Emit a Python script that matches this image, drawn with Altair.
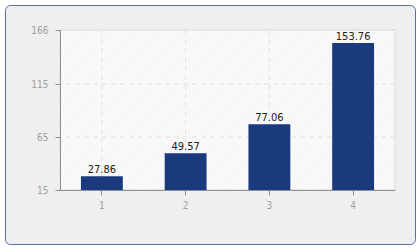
import altair as alt
import pandas as pd

categories = ["1", "2", "3", "4"]
values = [27.86, 49.57, 77.06, 153.76]
y_ticks = [15, 65, 115, 166]

W, H = 335, 160
FONT = "'DejaVu Sans Condensed', 'DejaVu Sans', sans-serif"

df = pd.DataFrame({"cat": categories, "val": values})
ticks_df = pd.DataFrame({"t": y_ticks})

xscale = alt.Scale(domain=categories, paddingInner=0.5, paddingOuter=0.25)
yscale = alt.Scale(domain=[15, 166], nice=False, zero=False)

xaxis = alt.Axis(labelAngle=0, grid=False, zindex=1, tickSize=5, title=None,
                 domainColor="#8f8f8f", tickColor="#8f8f8f",
                 labelColor="#a0a0a0", labelFont=FONT,
                 labelFontSize=10, labelPadding=5)
yaxis = alt.Axis(values=y_ticks, grid=False, zindex=1, tickSize=5, title=None,
                 domainColor="#8f8f8f", tickColor="#8f8f8f",
                 labelColor="#a0a0a0", labelFont=FONT,
                 labelFontSize=10, labelPadding=7)

# hatch pattern approximated with a striped linear gradient
period = 3.0
span = W + H
n = int(span / period)
stops = []
for k in range(n):
    a = k / n
    b = (k + 0.33) / n
    stops.append(alt.GradientStop(offset=a, color="#f0f0f0"))
    stops.append(alt.GradientStop(offset=b, color="#f0f0f0"))
    stops.append(alt.GradientStop(offset=b, color="#fcfcfc"))
    stops.append(alt.GradientStop(offset=(k + 1) / n, color="#fcfcfc"))
L = span / (1 + (H / W) ** 2) / W
hatch = alt.Gradient(gradient="linear", stops=stops, x1=0, y1=0,
                     x2=L, y2=L * H / W)

one = alt.Data(values=[{"a": 1}])

frame = alt.Chart(one).mark_rect(
    fill="#efefef", stroke="#5b6fa6", strokeWidth=1, cornerRadius=5
).encode(x=alt.value(-54.5), x2=alt.value(355.5), y=alt.value(-24.5), y2=alt.value(214.5))

plotbg = alt.Chart(one).mark_rect(
    fill=hatch, stroke="#dddddd", strokeWidth=1
).encode(x=alt.value(0), x2=alt.value(W), y=alt.value(0), y2=alt.value(H))

hgrid = alt.Chart(ticks_df).mark_rule(
    color="#e2e2e2", strokeDash=[5, 4], strokeWidth=1
).encode(y=alt.Y("t:Q", scale=yscale, axis=yaxis))

vgrid = alt.Chart(df).mark_rule(
    color="#e2e2e2", strokeDash=[5, 4], strokeWidth=1
).encode(x=alt.X("cat:N", scale=xscale, sort=categories, axis=xaxis))

bars = alt.Chart(df).mark_bar(color="#1a3a7e").encode(
    x=alt.X("cat:N", scale=xscale, sort=categories, axis=xaxis),
    y=alt.Y("val:Q", scale=yscale, axis=yaxis),
    y2=alt.Y2(datum=15),
)

labels = alt.Chart(df).mark_text(
    baseline="alphabetic", dy=-3, font=FONT, fontSize=11, color="#222222"
).encode(
    x=alt.X("cat:N", scale=xscale, sort=categories, axis=xaxis),
    y=alt.Y("val:Q", scale=yscale, axis=yaxis),
    text=alt.Text("val:Q", format=".2f"),
)

chart = alt.layer(frame, plotbg, hgrid, vgrid, bars, labels).properties(
    width=W, height=H,
    autosize="none",
    padding={"left": 60, "top": 30, "right": 25, "bottom": 60},
    background="white",
).configure_view(stroke=None)

chart.save("out.html", embed_options={"renderer": "svg", "actions": False})
